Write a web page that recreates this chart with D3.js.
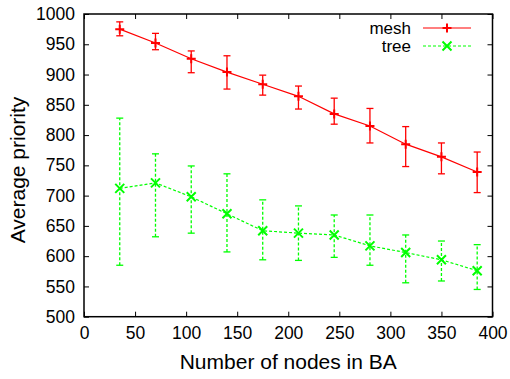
<!DOCTYPE html>
<html><head><meta charset="utf-8">
<script src="https://cdn.jsdelivr.net/npm/d3@7"></script>
<style>body{margin:0;background:#fff}svg{display:block}text{font-family:"Liberation Sans",Arial,sans-serif}</style>
</head><body>
<svg id="c" width="510" height="379"></svg>
<script>
const nodes = [35,70,105,140,175,210,245,280,315,350,385];
const meshAvg = [975,952,926,904,884,864,835,815,785,764,739];
const meshLow = [964,941,903,876,866,843,818,787,748,736,705];
const meshHigh = [987,968,939,931,899,881,861,844,814,787,772];
const treeAvg = [712,721,698,670,642,638,635,617,606,594,576];
const treeLow = [585,632,638,607,594,593,598,585,556,559,545];
const treeHigh = [828,769,749,736,693,683,668,668,635,625,619];
const xTicks = [0,50,100,150,200,250,300,350,400];
const yTicks = [500,550,600,650,700,750,800,850,900,950,1000];

const svg = d3.select("#c");
const L=84, R=492.5, T=14, B=316.7;
const x = d3.scaleLinear().domain([0,400]).range([L,R]);
const y = d3.scaleLinear().domain([500,1000]).range([B,T]);

const g = svg.append("g");
const tl=5;
g.append("g").attr("transform",`translate(0,${B})`).call(d3.axisBottom(x).tickValues(xTicks).tickSize(-tl).tickPadding(10).tickFormat(d3.format("d")));
g.append("g").attr("transform",`translate(0,${T})`).call(d3.axisTop(x).tickValues(xTicks).tickSize(-tl).tickFormat(""));
g.append("g").attr("transform",`translate(${L},0)`).call(d3.axisLeft(y).tickValues(yTicks).tickSize(-tl).tickPadding(9).tickFormat(d3.format("d")));
g.append("g").attr("transform",`translate(${R},0)`).call(d3.axisRight(y).tickValues(yTicks).tickSize(-tl).tickFormat(""));
g.selectAll(".domain").remove();
g.selectAll(".tick line").attr("stroke","#000").attr("stroke-width",1);
g.selectAll(".tick text").attr("font-size",17.5).attr("fill","#000").attr("font-family","Liberation Sans, Arial, sans-serif");

svg.append("rect").attr("x",L).attr("y",T).attr("width",R-L).attr("height",B-T)
  .attr("fill","none").attr("stroke","#000").attr("stroke-width",1.5);

function series(avg, lo, hi, color, dash, marker){
  const gg = svg.append("g");
  const idx = d3.range(nodes.length);
  const line = d3.line().x(i=>x(nodes[i])).y(i=>y(avg[i]));
  gg.append("path").attr("d",line(idx)).attr("fill","none").attr("stroke",color).attr("stroke-width",1.2).attr("stroke-dasharray",dash);
  const cw=3.5;
  idx.forEach(i=>{
    const cx=x(nodes[i]);
    gg.append("line").attr("x1",cx).attr("x2",cx).attr("y1",y(lo[i])).attr("y2",y(hi[i])).attr("stroke",color).attr("stroke-width",1.3).attr("stroke-dasharray",dash);
    [lo[i],hi[i]].forEach(v=>gg.append("line").attr("x1",cx-cw).attr("x2",cx+cw).attr("y1",y(v)).attr("y2",y(v)).attr("stroke",color).attr("stroke-width",1.3));
    marker(gg,cx,y(avg[i]));
  });
}
function plus(gg,cx,cy){const s=4.5;
  gg.append("path").attr("d",`M${cx-s},${cy}H${cx+s}M${cx},${cy-s}V${cy+s}`).attr("stroke","#ff0000").attr("stroke-width",2).attr("fill","none");}
function cross(gg,cx,cy){const s=4.5;
  gg.append("path").attr("d",`M${cx-s},${cy-s}L${cx+s},${cy+s}M${cx-s},${cy+s}L${cx+s},${cy-s}`).attr("stroke","#00ff00").attr("stroke-width",2).attr("fill","none");}

series(meshAvg,meshLow,meshHigh,"#ff0000",null,plus);
series(treeAvg,treeLow,treeHigh,"#00ff00","3,2",cross);

const lg = svg.append("g");
const legend = [{name:"mesh",color:"#ff0000",dash:null,m:plus,yy:28},{name:"tree",color:"#00ff00",dash:"3,2",m:cross,yy:46}];
legend.forEach(d=>{
  lg.append("text").attr("x",411).attr("y",d.yy).attr("dy","0.35em").attr("text-anchor","end").attr("font-size",17).text(d.name);
  lg.append("line").attr("x1",423).attr("x2",471).attr("y1",d.yy).attr("y2",d.yy).attr("stroke",d.color).attr("stroke-width",1.2).attr("stroke-dasharray",d.dash);
  d.m(lg,447,d.yy);
});

svg.append("text").attr("x",(L+R)/2).attr("y",369).attr("text-anchor","middle").attr("font-size",21).text("Number of nodes in BA");
svg.append("text").attr("transform",`translate(25,170) rotate(-90)`).attr("text-anchor","middle").attr("font-size",21).text("Average priority");
</script>
</body></html>
